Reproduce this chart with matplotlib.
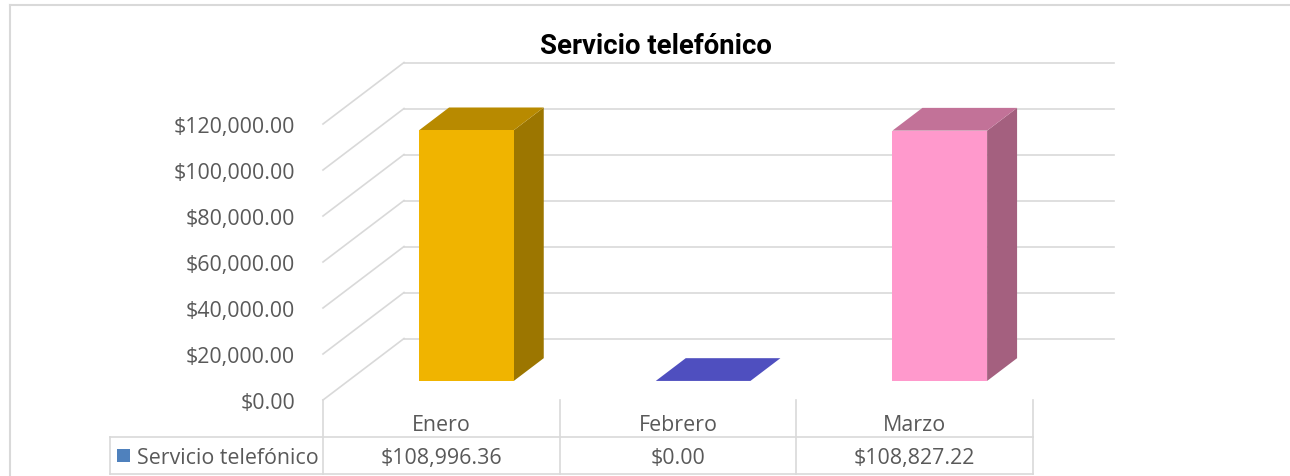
import matplotlib
matplotlib.use("Agg")
import matplotlib.pyplot as plt
from matplotlib import transforms
from matplotlib.lines import Line2D
from matplotlib.patches import Polygon, Rectangle

# datos
meses = ["Enero", "Febrero", "Marzo"]
montos = [108996.36, 0.00, 108827.22]
etiquetas = ["$108,996.36", "$0.00", "$108,827.22"]
serie = "Servicio telefónico"
ticks = [0, 20000, 40000, 60000, 80000, 100000, 120000]
tick_labels = ["$0.00", "$20,000.00", "$40,000.00", "$60,000.00",
               "$80,000.00", "$100,000.00", "$120,000.00"]

col_frente = ["#F0B400", "#4F4FBF", "#FF99CC"]
col_lado = ["#9C7600", "#3A3A8F", "#A4607F"]
col_tapa = ["#B88A00", "#4F4FBF", "#C27298"]

W, H = 1290, 477
DX, DY = 81.0, 61.5          # desplazamiento de profundidad (px)
GRIS = "#D9D9D9"
TXT = "#595959"
FONT = "Open Sans"
FS = 15.4

fig = plt.figure(figsize=(W / 100, H / 100), dpi=100)
ax = fig.add_axes([323 / W, 76 / H, 710 / W, 322 / H])
ax.set_xlim(-0.5, 2.5)
ax.set_ylim(0, 140000)
for s in ax.spines.values():
    s.set_visible(False)
ax.set_xticks([])
ax.set_yticks(ticks)
ax.set_yticklabels(tick_labels, fontsize=FS, color=TXT, family=FONT)
ax.tick_params(axis="y", length=0, pad=20)
ax.patch.set_visible(False)


def p3(x, v, d):
    """punto (categoria, valor, profundidad) -> coordenadas de datos"""
    px, py = ax.transData.transform((x, v))
    return ax.transData.inverted().transform((px + DX * d, py + DY * d))


def linea(a, b, **kw):
    ax.add_line(Line2D([a[0], b[0]], [a[1], b[1]], clip_on=False, **kw))


# paredes: lineas de cuadricula
for t in ticks:
    linea(p3(-0.5, t, 1), p3(2.5, t, 1), color=GRIS, lw=1.2, zorder=1)
    linea(p3(-0.5, t, 0), p3(-0.5, t, 1), color=GRIS, lw=1.2, zorder=1)

# barras 3D
ancho = 0.4
d0, d1 = 0.31, 0.68
for i, v in enumerate(montos):
    x0, x1 = i - ancho / 2, i + ancho / 2
    tapa = [p3(x0, v, d0), p3(x1, v, d0), p3(x1, v, d1), p3(x0, v, d1)]
    lado = [p3(x1, 0, d0), p3(x1, 0, d1), p3(x1, v, d1), p3(x1, v, d0)]
    frente = [p3(x0, 0, d0), p3(x1, 0, d0), p3(x1, v, d0), p3(x0, v, d0)]
    if v > 0:
        ax.add_patch(Polygon(lado, closed=True, fc=col_lado[i], ec="none",
                             zorder=3, clip_on=False))
        ax.add_patch(Polygon(frente, closed=True, fc=col_frente[i], ec="none",
                             zorder=4, clip_on=False))
    ax.add_patch(Polygon(tapa, closed=True, fc=col_tapa[i], ec="none",
                         zorder=3, clip_on=False))

# tabla de datos
fy = lambda py: 1 - py / H
bt = transforms.blended_transform_factory(ax.transData, fig.transFigure)
for xb in [-0.5, 0.5, 1.5, 2.5]:
    fig.add_artist(Line2D([xb, xb], [fy(401), fy(475)], transform=bt,
                          color=GRIS, lw=1.2))
x_leg = 110 / W
x_ax1 = 1033 / W
for yy in [438, 475]:
    fig.add_artist(Line2D([x_leg, x_ax1], [fy(yy), fy(yy)], color=GRIS, lw=1.2))
fig.add_artist(Line2D([x_leg, x_leg], [fy(438), fy(475)], color=GRIS, lw=1.2))

for i, (m, e) in enumerate(zip(meses, etiquetas)):
    fig.text(i, fy(426), m, transform=bt, ha="center", va="center",
             fontsize=FS, color=TXT, family=FONT)
    fig.text(i, fy(459), e, transform=bt, ha="center", va="center",
             fontsize=FS, color=TXT, family=FONT)

fig.add_artist(Rectangle((117 / W, fy(463)), 13 / W, 13 / H, fc="#4F81BD",
                         ec="none", transform=fig.transFigure))
fig.text(137 / W, fy(459), serie, ha="left", va="center",
         fontsize=FS, color=TXT, family=FONT)

# titulo
fig.text(656 / W, fy(46), "Servicio telefónico", ha="center", va="center",
         fontsize=19.8, weight="bold", color="black", family="Roboto")

# borde del grafico
fig.add_artist(Line2D([10 / W, 1], [fy(6), fy(6)], color=GRIS, lw=1.5))
fig.add_artist(Line2D([10 / W, 10 / W], [fy(6), 0], color=GRIS, lw=1.5))

fig.savefig("out.png", dpi=100, facecolor="white")
